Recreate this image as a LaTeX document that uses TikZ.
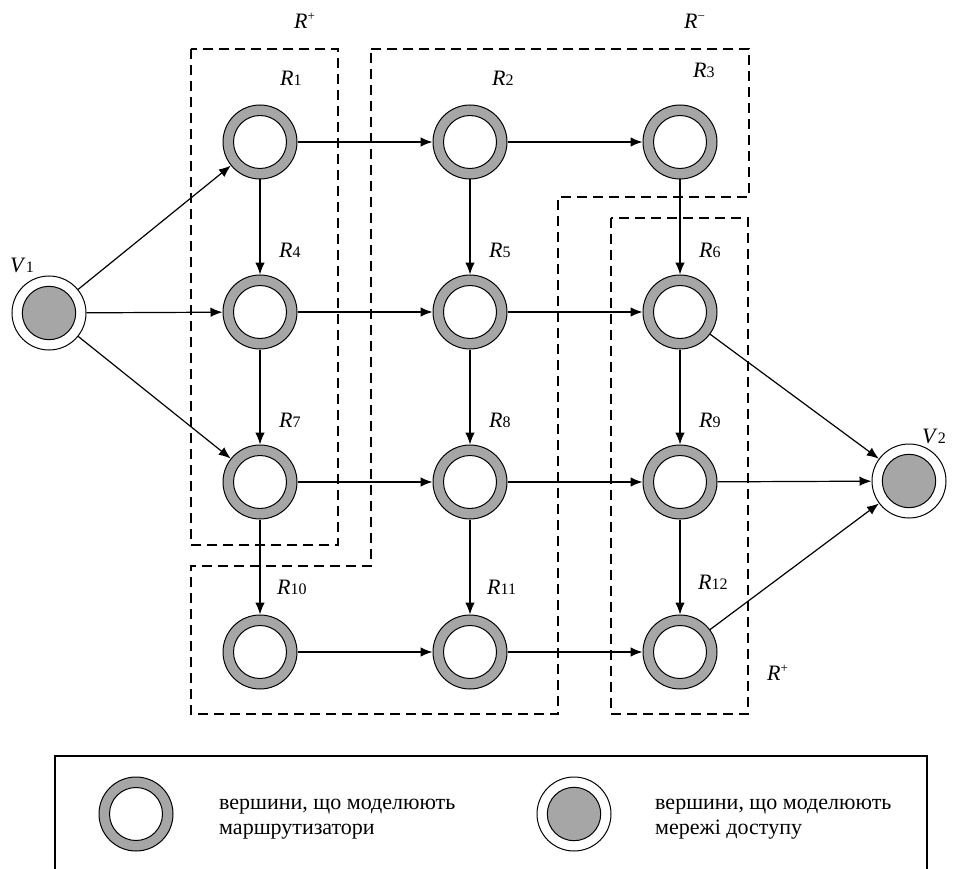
\documentclass[tikz,border=0pt]{standalone}
\usepackage{fontspec}
\setmainfont{Liberation Serif}
\usetikzlibrary{arrows.meta}
\definecolor{ringgray}{HTML}{A6A6A6}
\newcommand{\rlab}[2]{\fontsize{22}{22}\selectfont\textit{#1}{\fontsize{16}{16}\selectfont #2}}
\newcommand{\rset}[2]{\fontsize{22}{22}\selectfont\textit{#1}\raisebox{8pt}{\fontsize{13}{13}\selectfont #2}}
\begin{document}
\begin{tikzpicture}[x=1pt, y=-1pt,
  router/.style={circle, draw, line width=1pt, fill=ringgray, minimum size=74pt, inner sep=0pt,
    path picture={\draw[line width=1pt, fill=white] (path picture bounding box.center) circle (26.5pt);}},
  access/.style={circle, draw, line width=1pt, fill=white, minimum size=74pt, inner sep=0pt,
    path picture={\draw[line width=1pt, fill=ringgray] (path picture bounding box.center) circle (26.7pt);}},
  link/.style={line width=1.2pt, -{Latex[length=12pt, width=9.5pt]}},
  zone/.style={dash pattern=on 10pt off 6pt, line width=1.3pt},
  lbl/.style={anchor=base west, inner sep=0pt},
  legendtext/.style={anchor=base west, inner sep=0pt, align=left, font=\fontsize{22}{25}\selectfont}
]
\useasboundingbox (0,0) rectangle (961,869);

% dashed zones
\draw[zone] (191,49) rectangle (338,545);
\draw[zone] (371,49) -- (749,49) -- (749,197) -- (558,197) -- (558,714)
  -- (191,714) -- (191,566) -- (371,566) -- cycle;
\draw[zone] (611,218) rectangle (748,714);

% zone labels
\node[lbl] (zplus1) at (294,29) {\rset{R}{+}};
\node[lbl] (zminus) at (684,29) {\rset{R}{\textminus}};
\node[lbl] (zplus2) at (767,680) {\rset{R}{+}};

% vertices
\node[access] (V1) at (49,313) {};
\node[access] (V2) at (909,481) {};
\node[router] (R1) at (260,142) {};
\node[router] (R2) at (470,142) {};
\node[router] (R3) at (680,142) {};
\node[router] (R4) at (260,312) {};
\node[router] (R5) at (470,312) {};
\node[router] (R6) at (680,312) {};
\node[router] (R7) at (260,482) {};
\node[router] (R8) at (470,482) {};
\node[router] (R9) at (680,482) {};
\node[router] (R10) at (260,652) {};
\node[router] (R11) at (470,652) {};
\node[router] (R12) at (680,652) {};

% vertex labels
\node[lbl] (lV1) at (10,272) {\rlab{V}{1}};
\node[lbl] (lV2) at (922,443) {\rlab{V}{2}};
\node[lbl] (l1) at (280,86) {\rlab{R}{1}};
\node[lbl] (l2) at (492,86) {\rlab{R}{2}};
\node[lbl] (l3) at (693,78) {\rlab{R}{3}};
\node[lbl] (l4) at (279,257) {\rlab{R}{4}};
\node[lbl] (l5) at (489,257) {\rlab{R}{5}};
\node[lbl] (l6) at (699,257) {\rlab{R}{6}};
\node[lbl] (l7) at (279,427) {\rlab{R}{7}};
\node[lbl] (l8) at (489,427) {\rlab{R}{8}};
\node[lbl] (l9) at (699,427) {\rlab{R}{9}};
\node[lbl] (l10) at (277,594) {\rlab{R}{10}};
\node[lbl] (l11) at (487,594) {\rlab{R}{11}};
\node[lbl] (l12) at (698,589) {\rlab{R}{12}};

% links
\draw[link] (V1) -- (R1);
\draw[link] (V1) -- (R4);
\draw[link] (V1) -- (R7);
\draw[link] (R1) -- (R2);
\draw[link] (R2) -- (R3);
\draw[link] (R4) -- (R5);
\draw[link] (R5) -- (R6);
\draw[link] (R7) -- (R8);
\draw[link] (R8) -- (R9);
\draw[link] (R10) -- (R11);
\draw[link] (R11) -- (R12);
\draw[link] (R1) -- (R4);
\draw[link] (R4) -- (R7);
\draw[link] (R7) -- (R10);
\draw[link] (R2) -- (R5);
\draw[link] (R5) -- (R8);
\draw[link] (R8) -- (R11);
\draw[link] (R3) -- (R6);
\draw[link] (R6) -- (R9);
\draw[link] (R9) -- (R12);
\draw[link] (R6) -- (V2);
\draw[link] (R9) -- (V2);
\draw[link] (R12) -- (V2);

% legend
\draw[line width=2pt] (55,869) -- (55,756) -- (927,756) -- (927,869);
\node[router] (keyR) at (136,814) {};
\node[legendtext] (keyRt) at (219,834) {вершини, що моделюють\\маршрутизатори};
\node[access] (keyV) at (574,814) {};
\node[legendtext] (keyVt) at (655,834) {вершини, що моделюють\\мережі доступу};
\end{tikzpicture}
\end{document}
